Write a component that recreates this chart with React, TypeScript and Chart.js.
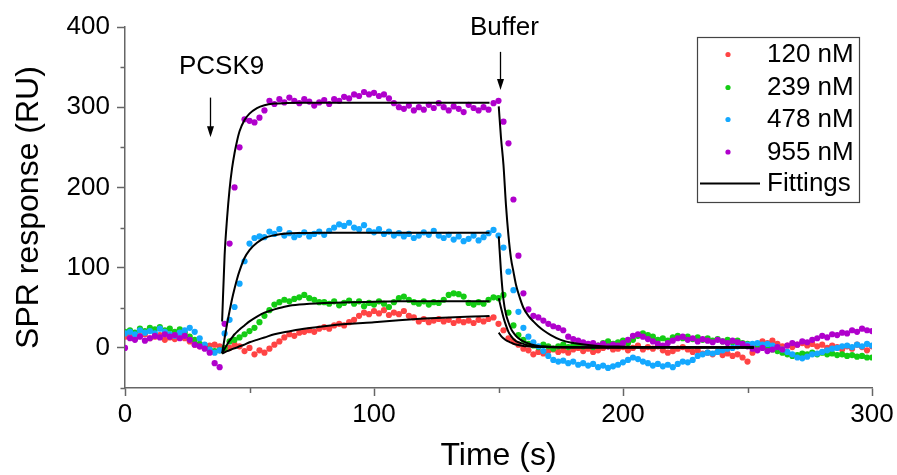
import React, { useEffect, useRef } from 'react';
import { Chart, registerables } from 'chart.js';

Chart.register(...registerables);

const FONT = "'Liberation Sans', Arial, Helvetica, sans-serif";

// Sampling times (s)
const TIME = [
  0, 2, 4, 6, 8, 10, 12, 14, 16, 18,
  20, 22, 24, 26, 28, 30, 32, 34, 36, 38,
  40, 42, 44, 46, 48, 50, 52, 54, 56, 58,
  60, 62, 64, 66, 68, 70, 72, 74, 76, 78,
  80, 82, 84, 86, 88, 90, 92, 94, 96, 98,
  100, 102, 104, 106, 108, 110, 112, 114, 116, 118,
  120, 122, 124, 126, 128, 130, 132, 134, 136, 138,
  140, 142, 144, 146, 148, 150, 152, 154, 156, 158,
  160, 162, 164, 166, 168, 170, 172, 174, 176, 178,
  180, 182, 184, 186, 188, 190, 192, 194, 196, 198,
  200, 202, 204, 206, 208, 210, 212, 214, 216, 218,
  220, 222, 224, 226, 228, 230, 232, 234, 236, 238,
  240, 242, 244, 246, 248, 250, 252, 254, 256, 258,
  260, 262, 264, 266, 268, 270, 272, 274, 276, 278,
  280, 282, 284, 286, 288, 290, 292, 294, 296, 298,
  300,
];

// SPR responses (RU)
const RU_120 = [
  14, 16, 13, 15, 17, 12, 14, 16, 10, 13,
  11, 14, 12, 8, 4, 2, 0, 3, 4, 2,
  -2, 0, 4, 2, -4, 0, -8, -3, -6, -1,
  4, 8, 13, 17, 15, 19, 20, 22, 20, 24,
  26, 24, 28, 30, 28, 32, 35, 40, 44, 42,
  46, 43, 47, 41, 44, 42, 46, 40, 38, 33,
  36, 32, 34, 36, 33, 35, 31, 34, 32, 34,
  31, 35, 33, 36, 38, 30, 22, 12, 8, 4,
  -1, -3, -8, -5, -7, -4, -2, -5, -3, -6,
  -2, 0, -4, -1, -5, -3, 0, 2, -2, -1,
  1, -3, 0, 3, -2, 1, -1, 2, -3, -6,
  -4, -1, 1, -2, -5, -3, -7, -6, -8, -5,
  -9, -7, -10, -8, -12, -17, -6, 4, 8, 6,
  9, 5, 2, 3, 1, 4, 6, 3, 5, 2,
  4, 0, 3, 1, -2, 2, -1, 4, 1, -3,
  2,
];

const RU_239 = [
  20, 22, 19, 24, 21, 25, 23, 26, 22, 24,
  20, 23, 19, 14, 10, 5, 2, -2, -4, -3,
  0, 8, 10, 13, 17, 21, 25, 32, 40, 47,
  54, 57, 60, 58, 61, 63, 66, 62, 60, 57,
  57, 55, 58, 53, 56, 59, 55, 58, 52, 56,
  54, 58, 55, 51, 57, 62, 64, 60, 57, 55,
  58, 54, 57, 56, 60, 66, 68, 67, 64, 56,
  54, 57, 55, 60, 63, 62, 66, 44, 28, 16,
  10, 5, 3, 1, 4, 2, -1, 2, 4, 1,
  3, 5, 2, 4, 1, 3, 6, 8, 5, 7,
  9, 6, 10, 15, 18, 16, 14, 10, 12, 9,
  13, 15, 12, 14, 11, 13, 10, 12, 9, 11,
  8, 10, 7, 9, 6, 5, 3, 1, 2, 0,
  -2, -4, -6, -8, -10, -9, -7, -8, -6, -8,
  -6, -8, -7, -9, -8, -10, -9, -11, -10, -12,
  -12,
];

const RU_478 = [
  18, 20, 17, 22, 19, 21, 18, 24, 20, 17,
  15, 19, 22, 25, 20, 12, 4, -2, -6, -3,
  18, 35, 51, 80, 108, 130, 137, 139, 138, 145,
  142, 148, 140, 143, 138, 141, 144, 139, 142, 145,
  141, 146, 150, 154, 152, 156, 150, 148, 153, 146,
  144, 148, 142, 145, 140, 143, 139, 142, 137, 140,
  144, 141, 146, 140, 137, 141, 135, 139, 133, 136,
  140, 134, 138, 143, 147, 140, 125, 95, 72, 45,
  25, 14, 7, 2, -4, -10, -15, -17, -16, -19,
  -17, -21, -19, -22, -20, -24, -22, -25, -23, -21,
  -18, -15, -12, -14, -17, -19, -22, -20, -23, -21,
  -24, -20, -17, -18, -15, -10, -8, -6, -7, -5,
  -3, -1, 0, 2, 3, 4, 5, 6, 4, 5,
  3, 1, -2, -5, -8, -12, -13, -11, -8, -7,
  -5, -3, -1, 0, 2, 3, 1, 4, 2, 5,
  3,
];

const RU_955 = [
  0, 12, 10, 14, 9, 12, 15, 13, 17, 14,
  16, 12, 15, 10, 4, 2, -1, -6, -19, -24,
  30, 130, 200, 250, 285, 283, 281, 287, 296, 308,
  304, 310, 306, 312, 308, 305, 310, 307, 302, 306,
  309, 304, 310, 308, 313, 311, 316, 314, 319, 316,
  318, 314, 316, 311, 305, 300, 298, 302, 296, 300,
  297, 303, 299, 305, 300, 296, 301, 298, 294, 303,
  299, 296, 300, 297, 305, 308, 282, 255, 185, 115,
  68, 48, 40, 38, 34, 30, 27, 25, 22, 14,
  11, 9, 7, 5, 6, 3, 5, 2, 4, 3,
  6, 10, 15, 17, 14, 11, 8, 5, 3, 6,
  9, 12, 14, 10, 12, 8, 11, 9, 7, 10,
  8, 6, 9, 7, 5, 2, -1, -3, 0, -4,
  -2, 1, -2, 3, 6, 4, 8, 7, 10, 12,
  15, 13, 17, 16, 19, 18, 22, 20, 24, 22,
  21,
];

// Fitted curves: association phase
const FIT_ASSOC_T = [39, 40, 41, 42, 43, 44, 45, 46, 48, 50, 53, 56, 60, 65, 70, 80, 90, 100, 110, 120, 130, 140, 146.4];
const FIT_ASSOC_120 = [-7, -5.5, -4, -3, -1.5, -0.5, 0.5, 2, 4, 7, 10, 13, 17, 20, 23, 27, 30, 32, 34.5, 36.5, 38, 39, 39.6];
const FIT_ASSOC_239 = [-7, -1, 4, 9, 13, 17, 20, 23, 28, 33, 39, 44, 48, 52, 54, 56, 57, 57.5, 58, 58, 58, 58, 58];
const FIT_ASSOC_478 = [-7, 12, 30, 46, 61, 74, 86, 96, 112, 122, 131, 137, 140.5, 142.5, 143.2, 143.5, 143.5, 143.5, 143.5, 143.5, 143.5, 143.5, 143.5];
const FIT_ASSOC_955 = [33, 115, 162, 198, 224, 243, 258, 270, 284, 292, 299, 302.5, 304.5, 305.2, 305.5, 305.5, 305.5, 305.5, 305.5, 305.5, 305.5, 305.5, 305.5];

// Fitted curves: dissociation phase
const FIT_DISS_T = [150.1, 151, 152, 153, 154, 155, 156, 157, 158, 160, 162, 164, 166, 168, 171, 175, 180, 190, 200, 220, 252.5];
const FIT_DISS_120 = [19, 15, 12, 9.5, 8, 6.5, 5.2, 4.2, 3.5, 2.5, 2, 1.5, 1.2, 1, 0.8, 0.6, 0.5, 0.4, 0.4, 0.4, 0.4];
const FIT_DISS_239 = [62, 50, 38, 28, 20, 15, 11, 8.5, 7, 5, 3, 2, 1.5, 1.2, 1, 0.8, 0.6, 0.5, 0.5, 0.5, 0.5];
const FIT_DISS_478 = [139, 95, 60, 42, 32, 24, 19, 15, 12, 8, 5.5, 3.5, 2.5, 2, 1.5, 1, 1, 0.8, 0.6, 0.5, 0.5];
const FIT_DISS_955 = [301, 262, 228, 178, 140, 112, 95, 79, 68, 50, 40, 33, 27, 22, 16, 10, 6, 2.5, 1.5, 1, 0.8];

const SERIES_LABELS = ['120 nM', '239 nM', '478 nM', '955 nM'];
const SERIES_COLORS = ['#ff4444', '#14cc14', '#14a8ff', '#b000cc'];
const FIT_LABEL = 'Fittings';

const X_TITLE = 'Time (s)';
const Y_TITLE = 'SPR response (RU)';

const ANNOTATIONS = [
  { text: 'PCSK9', textT: 38.8, textV: 350, arrowT: 34.3, fromV: 312, toV: 262.5 },
  { text: 'Buffer', textT: 152.4, textV: 398.5, arrowT: 150.7, fromV: 369, toV: 321.5 },
];

const toPoints = (ts: number[], vs: number[]) => ts.map((t, i) => ({ x: t, y: vs[i] }));

const minorTicksPlugin = {
  id: 'minorTicks',
  afterDraw(chart: any) {
    const { ctx, chartArea, scales } = chart;
    ctx.save();
    ctx.strokeStyle = '#666';
    ctx.lineWidth = 1.5;
    for (let v = -50; v <= 400; v += 100) {
      const py = Math.round(scales.y.getPixelForValue(v)) + 0.5;
      ctx.beginPath();
      ctx.moveTo(chartArea.left - 4.5, py);
      ctx.lineTo(chartArea.left, py);
      ctx.stroke();
    }
    for (let t = 50; t <= 300; t += 100) {
      const px = Math.round(scales.x.getPixelForValue(t)) + 0.5;
      ctx.beginPath();
      ctx.moveTo(px, chartArea.bottom);
      ctx.lineTo(px, chartArea.bottom + 5);
      ctx.stroke();
    }
    ctx.restore();
  },
};

const annotationPlugin = {
  id: 'arrowsText',
  afterDraw(chart: any) {
    const { ctx, scales } = chart;
    const { x, y } = scales;
    ctx.save();
    ctx.fillStyle = '#000';
    ctx.strokeStyle = '#000';
    ctx.font = `26px ${FONT}`;
    ctx.textAlign = 'center';
    ctx.textBaseline = 'middle';
    for (const a of ANNOTATIONS) {
      ctx.fillText(a.text, x.getPixelForValue(a.textT), y.getPixelForValue(a.textV));
      const ax = Math.round(x.getPixelForValue(a.arrowT)) + 0.5;
      const y0 = y.getPixelForValue(a.fromV);
      const y1 = y.getPixelForValue(a.toV);
      ctx.lineWidth = 1.3;
      ctx.beginPath();
      ctx.moveTo(ax, y0);
      ctx.lineTo(ax, y1 - 9);
      ctx.stroke();
      ctx.beginPath();
      ctx.moveTo(ax - 3.5, y1 - 11);
      ctx.lineTo(ax + 3.5, y1 - 11);
      ctx.lineTo(ax, y1);
      ctx.closePath();
      ctx.fill();
    }
    ctx.restore();
  },
};

const legendPlugin = {
  id: 'boxLegend',
  afterDraw(chart: any) {
    const { ctx, chartArea } = chart;
    const left = chartArea.right - 175;
    const right = chartArea.right - 13;
    const top = chartArea.top + 10;
    const bottom = chartArea.top + 175;
    const rows = [27.5, 60.5, 92.5, 125, 156.5];
    ctx.save();
    ctx.fillStyle = '#fff';
    ctx.fillRect(left, top, right - left, bottom - top);
    ctx.strokeStyle = '#444';
    ctx.lineWidth = 1.2;
    ctx.strokeRect(left + 0.5, top + 0.5, right - left, bottom - top);
    ctx.font = `26px ${FONT}`;
    ctx.textAlign = 'left';
    ctx.textBaseline = 'middle';
    SERIES_LABELS.forEach((lab, i) => {
      const ry = chartArea.top + rows[i];
      ctx.fillStyle = SERIES_COLORS[i];
      ctx.beginPath();
      ctx.arc(left + 31, ry, 2.6, 0, Math.PI * 2);
      ctx.fill();
      ctx.fillStyle = '#000';
      ctx.fillText(lab, left + 70, ry + 0.5);
    });
    const fy = chartArea.top + rows[4];
    ctx.strokeStyle = '#000';
    ctx.lineWidth = 2;
    ctx.beginPath();
    ctx.moveTo(left + 3, fy);
    ctx.lineTo(left + 63, fy);
    ctx.stroke();
    ctx.fillStyle = '#000';
    ctx.fillText(FIT_LABEL, left + 70, fy + 0.5);
    ctx.restore();
  },
};

export default function App() {
  const canvasRef = useRef<HTMLCanvasElement | null>(null);

  useEffect(() => {
    document.body.style.margin = '0';
    const canvas = canvasRef.current;
    if (!canvas) return;

    const seriesValues = [RU_120, RU_239, RU_478, RU_955];
    const assocFits = [FIT_ASSOC_120, FIT_ASSOC_239, FIT_ASSOC_478, FIT_ASSOC_955];
    const dissFits = [FIT_DISS_120, FIT_DISS_239, FIT_DISS_478, FIT_DISS_955];

    const fitDatasets: any[] = [];
    [...assocFits.map((v) => [FIT_ASSOC_T, v]), ...dissFits.map((v) => [FIT_DISS_T, v])].forEach(([ts, vals]) => {
      fitDatasets.push({
        label: FIT_LABEL,
        data: toPoints(ts as number[], vals as number[]),
        showLine: true,
        borderColor: '#000',
        borderWidth: 2,
        pointRadius: 0,
        cubicInterpolationMode: 'monotone',
        order: 1,
      });
    });

    const scatterDatasets = seriesValues.map((vals, i) => ({
      label: SERIES_LABELS[i],
      data: toPoints(TIME, vals),
      showLine: false,
      backgroundColor: SERIES_COLORS[i],
      borderWidth: 0,
      pointRadius: 3.1,
      pointHoverRadius: 3.1,
      order: 5 - i,
    }));

    const tickColor = (c: any) =>
      c.tick && Math.abs(c.tick.value % 100) === 0 ? '#666' : 'rgba(0,0,0,0)';

    const chart = new Chart(canvas, {
      type: 'scatter',
      data: { datasets: [...fitDatasets, ...scatterDatasets] },
      options: {
        responsive: false,
        animation: false,
        devicePixelRatio: 1,
        layout: { padding: { top: 27, right: 25, bottom: 0, left: 0 } },
        plugins: {
          legend: { display: false },
          tooltip: { enabled: false },
        },
        scales: {
          x: {
            type: 'linear',
            min: 0,
            max: 300,
            afterFit: (s: any) => {
              s.height = 87;
            },
            ticks: {
              stepSize: 50,
              autoSkip: false,
              maxRotation: 0,
              padding: 3,
              color: '#000',
              font: { family: FONT, size: 26 },
              callback: (v: any) => (Number(v) % 100 === 0 ? String(v) : ''),
            },
            grid: {
              drawOnChartArea: false,
              drawTicks: true,
              tickLength: 8,
              tickWidth: 1.5,
              tickColor,
            },
            border: { display: true, color: '#666', width: 1.5 },
            title: {
              display: true,
              text: X_TITLE,
              color: '#000',
              font: { family: FONT, size: 32 },
              padding: { top: 0, bottom: 0 },
            },
          },
          y: {
            type: 'linear',
            min: -50,
            max: 400,
            afterFit: (s: any) => {
              s.width = 125;
            },
            ticks: {
              stepSize: 50,
              autoSkip: false,
              padding: 7,
              color: '#000',
              font: { family: FONT, size: 26 },
              callback: (v: any) => (Number(v) % 100 === 0 ? String(v) : ''),
            },
            grid: {
              drawOnChartArea: false,
              drawTicks: true,
              tickLength: 8,
              tickWidth: 1.5,
              tickColor,
            },
            border: { display: true, color: '#666', width: 1.5 },
            title: {
              display: true,
              text: Y_TITLE,
              color: '#000',
              font: { family: FONT, size: 32 },
              padding: { top: 10, bottom: 0 },
            },
          },
        },
      },
      plugins: [minorTicksPlugin, annotationPlugin, legendPlugin],
    } as any);

    return () => chart.destroy();
  }, []);

  return (
    <div style={{ position: 'absolute', left: 0, top: 0, width: 897, height: 475, background: '#fff' }}>
      <canvas ref={canvasRef} width={897} height={475} />
    </div>
  );
}
